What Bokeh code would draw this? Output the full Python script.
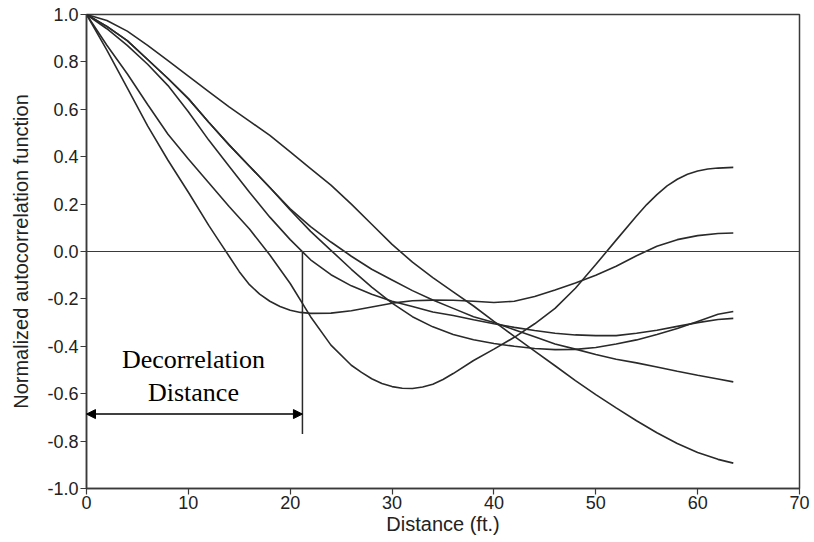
from bokeh.plotting import figure
from bokeh.models import Range1d, FixedTicker, PrintfTickFormatter, Span, Arrow, NormalHead, Label
from bokeh.embed import file_html
from bokeh.resources import INLINE

# Common distance grid (ft.)
grid = [0, 2, 4, 6, 8, 10, 12, 14, 16, 18, 20, 22, 24, 26, 28, 30, 32, 34, 36, 38,
        40, 42, 44, 46, 48, 50, 52, 54, 56, 58, 60, 62, 63.5]

# Curve A (deep minimum near 31 ft, ends at +0.36)
dist_a = [0, 2, 4, 6, 8, 10, 12, 14, 16, 18, 20, 22, 24, 26, 27, 28, 29, 30, 31, 32, 33, 34,
          35, 36, 38, 40, 42, 44, 46, 48, 50, 52, 54, 55, 56, 57, 58, 59, 60, 61, 62, 63.5]
curve_a = [1.0, 0.87, 0.75, 0.62, 0.495, 0.39, 0.29, 0.19, 0.095, -0.015, -0.135, -0.275,
           -0.395, -0.48, -0.51, -0.537, -0.557, -0.57, -0.577, -0.578, -0.572, -0.56, -0.54,
           -0.515, -0.46, -0.412, -0.362, -0.305, -0.24, -0.155, -0.055, 0.048, 0.15, 0.198,
           0.24, 0.277, 0.305, 0.326, 0.34, 0.348, 0.352, 0.355]

# Curve B (fastest decay, shallow minimum, ends near +0.08)
dist_b = [0, 2, 4, 6, 8, 10, 12, 13, 14, 15, 16, 17, 18, 19, 20, 21, 22, 24, 26, 28, 30, 32,
          34, 36, 38, 40, 42, 44, 46, 48, 50, 52, 54, 56, 58, 60, 62, 63.5]
curve_b = [1.0, 0.85, 0.69, 0.53, 0.385, 0.25, 0.11, 0.045, -0.02, -0.085, -0.14, -0.18,
           -0.21, -0.232, -0.248, -0.257, -0.261, -0.26, -0.25, -0.234, -0.218, -0.208,
           -0.205, -0.206, -0.21, -0.215, -0.21, -0.19, -0.162, -0.133, -0.1, -0.062,
           -0.018, 0.022, 0.05, 0.067, 0.076, 0.078]

# Curves C-F on the common grid
curve_c = [1.0, 0.94, 0.87, 0.79, 0.70, 0.59, 0.47, 0.36, 0.25, 0.145, 0.05, -0.035, -0.098,
           -0.145, -0.18, -0.21, -0.232, -0.255, -0.27, -0.288, -0.305, -0.32, -0.333, -0.345,
           -0.352, -0.355, -0.355, -0.345, -0.332, -0.316, -0.30, -0.287, -0.282]
curve_d = [1.0, 0.95, 0.89, 0.81, 0.73, 0.645, 0.545, 0.45, 0.36, 0.27, 0.175, 0.085, 0.005,
           -0.075, -0.15, -0.218, -0.275, -0.318, -0.35, -0.372, -0.388, -0.40, -0.409, -0.414,
           -0.413, -0.405, -0.39, -0.373, -0.35, -0.325, -0.295, -0.265, -0.253]
curve_e = [1.0, 0.95, 0.89, 0.81, 0.73, 0.645, 0.545, 0.45, 0.36, 0.27, 0.18, 0.105, 0.04,
           -0.02, -0.075, -0.12, -0.165, -0.205, -0.24, -0.275, -0.30, -0.33, -0.36, -0.39,
           -0.412, -0.435, -0.455, -0.47, -0.487, -0.505, -0.522, -0.538, -0.55]
curve_f = [1.0, 0.975, 0.93, 0.87, 0.805, 0.74, 0.675, 0.61, 0.55, 0.49, 0.42, 0.35, 0.28,
           0.20, 0.115, 0.03, -0.045, -0.11, -0.17, -0.23, -0.295, -0.358, -0.42, -0.482,
           -0.545, -0.604, -0.66, -0.714, -0.765, -0.81, -0.848, -0.877, -0.893]

series = [(dist_a, curve_a), (dist_b, curve_b), (grid, curve_c), (grid, curve_d),
          (grid, curve_e), (grid, curve_f)]

x_ticks = [0, 10, 20, 30, 40, 50, 60, 70]
y_ticks = [-1.0, -0.8, -0.6, -0.4, -0.2, 0.0, 0.2, 0.4, 0.6, 0.8, 1.0]

decorrelation_distance = 21.2
arrow_level = -0.686
marker_bottom = -0.77

ink = "#2a2a2a"

p = figure(width=814, height=542, x_range=Range1d(0, 70), y_range=Range1d(-1, 1),
           output_backend="svg", toolbar_location=None,
           min_border_left=86, min_border_right=15, min_border_top=14, min_border_bottom=54)
p.background_fill_color = "white"
p.border_fill_color = "white"
p.xgrid.visible = False
p.ygrid.visible = False
p.outline_line_color = "#3a3a3a"
p.outline_line_width = 1.5

p.xaxis.ticker = FixedTicker(ticks=x_ticks)
p.yaxis.ticker = FixedTicker(ticks=y_ticks)
p.yaxis.formatter = PrintfTickFormatter(format="%.1f")
p.xaxis.axis_label = "Distance (ft.)"
p.yaxis.axis_label = "Normalized autocorrelation function"
for ax in (p.xaxis, p.yaxis):
    ax.axis_line_color = "#3a3a3a"
    ax.axis_line_width = 1.5
    ax.major_tick_line_color = "#3a3a3a"
    ax.major_tick_line_width = 1.2
    ax.major_tick_in = 0
    ax.major_tick_out = 6
    ax.minor_tick_line_color = None
    ax.major_label_text_font = "Liberation Sans"
    ax.major_label_text_font_size = "18px"
    ax.major_label_text_color = "#222222"
    ax.axis_label_text_font = "Liberation Sans"
    ax.axis_label_text_font_size = "20px"
    ax.axis_label_text_font_style = "normal"
    ax.axis_label_text_color = "#222222"
p.yaxis.major_label_standoff = 2
p.xaxis.major_label_standoff = 1
p.yaxis.axis_label_standoff = 12
p.xaxis.axis_label_standoff = 1

p.add_layout(Span(location=0, dimension="width", line_color="#3a3a3a", line_width=1.2))

for xs, vals in series:
    p.line(xs, vals, line_color=ink, line_width=1.6)

p.segment(x0=[decorrelation_distance], y0=[0], x1=[decorrelation_distance], y1=[marker_bottom],
          line_color=ink, line_width=1.5)
p.add_layout(Arrow(start=NormalHead(size=9, fill_color="black", line_color="black"),
                   end=NormalHead(size=9, fill_color="black", line_color="black"),
                   x_start=0, y_start=arrow_level, x_end=decorrelation_distance, y_end=arrow_level,
                   line_color="black", line_width=1.5))

p.add_layout(Label(x=10.5, y=-0.457, text="Decorrelation", text_align="center",
                   text_baseline="middle", text_font="Liberation Serif",
                   text_font_size="26px", text_color="black"))
p.add_layout(Label(x=10.5, y=-0.597, text="Distance", text_align="center",
                   text_baseline="middle", text_font="Liberation Serif",
                   text_font_size="26px", text_color="black"))

open("out.html", "w").write(file_html(p, INLINE))
